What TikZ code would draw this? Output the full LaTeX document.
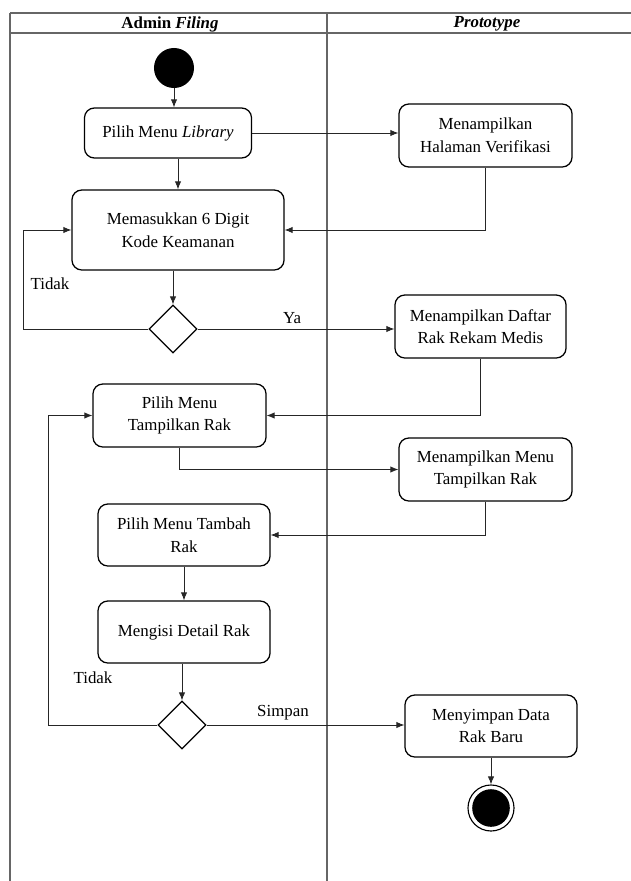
\documentclass[tikz,border=0pt]{standalone}
\usepackage{fontspec}
\setmainfont{Liberation Serif}
\usepackage{tikz}
\usetikzlibrary{arrows.meta}
\usetikzlibrary{shapes}
\usetikzlibrary{positioning}
\tikzset{%
  aktivitas/.style={
    draw,
    rectangle,
    rounded corners=7pt,
    line width=0.9pt,
    align=center,
    font=\fontsize{12}{16}\selectfont
  },
  keputusan/.style={
    draw,
    diamond,
    line width=0.8pt,
    minimum width=1.2cm,
    minimum height=1.2cm,
    inner sep=0pt
  },
  awal/.style={
    circle,
    fill=black,
    minimum size=1cm,
    inner sep=0pt
  },
  akhir/.style={
    circle,
    draw,
    line width=0.8pt,
    minimum size=1.15cm,
    inner sep=0pt,
    path picture={\fill (path picture bounding box.center) circle (0.47cm);}
  },
  alur/.style={
    -{Latex[length=2mm,width=1.6mm]},
    line width=0.6pt,
    draw=black!85
  },
  bingkai/.style={draw=black!60, line width=0.8pt},
  judul/.style={font=\fontsize{12}{14}\selectfont\bfseries},
  teks/.style={font=\fontsize{12}{14}\selectfont},
}
\begin{document}
\begin{tikzpicture}[x=0.025cm,y=-0.025cm]
    \useasboundingbox (0,0) rectangle (631,881);
    % swimlane
    \draw [bingkai] (10,13) -- (631,13);
    \draw [bingkai] (10,33) -- (631,33);
    \draw [bingkai] (10,13) -- (10,881);
    \draw [bingkai] (327,13) -- (327,881);
    \node (ha) [judul] at (170,24) {Admin \textit{Filing}};
    \node (hb) [judul] at (487,24) {\textit{Prototype}};

    \node (s) [awal] at (174,68) {};
    \node (a) [aktivitas,minimum width=4.175cm,minimum height=1.25cm] at (168,133)
    {Pilih Menu \textit{Library}};
    \node (b) [aktivitas,minimum width=4.325cm,minimum height=1.575cm] at (485.5,135.5)
    {Menampilkan\\Halaman Verifikasi};
    \node (c) [aktivitas,minimum width=5.3cm,minimum height=2cm] at (178,230)
    {Memasukkan 6 Digit\\Kode Keamanan};
    \node (d) [keputusan] at (173,329) {};
    \node (e) [aktivitas,minimum width=4.275cm,minimum height=1.575cm] at (480.5,326.5)
    {Menampilkan Daftar\\Rak Rekam Medis};
    \node (f) [aktivitas,minimum width=4.325cm,minimum height=1.575cm] at (179.5,415.5)
    {Pilih Menu\\Tampilkan Rak};
    \node (g) [aktivitas,minimum width=4.325cm,minimum height=1.575cm] at (485.5,469.5)
    {Menampilkan Menu\\Tampilkan Rak};
    \node (h) [aktivitas,minimum width=4.3cm,minimum height=1.55cm] at (184,535)
    {Pilih Menu Tambah\\Rak};
    \node (i) [aktivitas,minimum width=4.3cm,minimum height=1.55cm] at (184,632)
    {Mengisi Detail Rak};
    \node (j) [keputusan] at (182,725) {};
    \node (k) [aktivitas,minimum width=4.3cm,minimum height=1.55cm] at (491,726)
    {Menyimpan Data\\Rak Baru};
    \node (l) [akhir] at (491,808) {};

    \node (t1) [teks] at (50,284) {Tidak};
    \node (ya) [teks] at (292,318) {Ya};
    \node (t2) [teks] at (93,678) {Tidak};
    \node (sp) [teks] at (283,713) {Simpan};
    \coordinate (p1) at (23,0);
    \coordinate (p2) at (48,0);

    \draw   [alur] (s.south)--(s.south |- a.north);
    \draw   [alur] (a.east)--(a.east -| b.west);
    \draw   [alur] (c.north |- a.south)--(c.north);
    \draw   [alur] (b.south) |- (c.east);
    \draw   [alur] (d.north |- c.south)--(d.north);
    \draw   [alur] (d.west)--(d.west -| p1) |- (c.west);
    \draw   [alur] (d.east)--(d.east -| e.west);
    \draw   [alur] (e.south) |- (f.east);
    \draw   [alur] (f.south) |- (g.west);
    \draw   [alur] (g.south) |- (h.east);
    \draw   [alur] (h)--(i);
    \draw   [alur] (j.north |- i.south)--(j.north);
    \draw   [alur] (j.west)--(j.west -| p2) |- (f.west);
    \draw   [alur] (j.east)--(j.east -| k.west);
    \draw   [alur] (k)--(l);
\end{tikzpicture}
\end{document}
